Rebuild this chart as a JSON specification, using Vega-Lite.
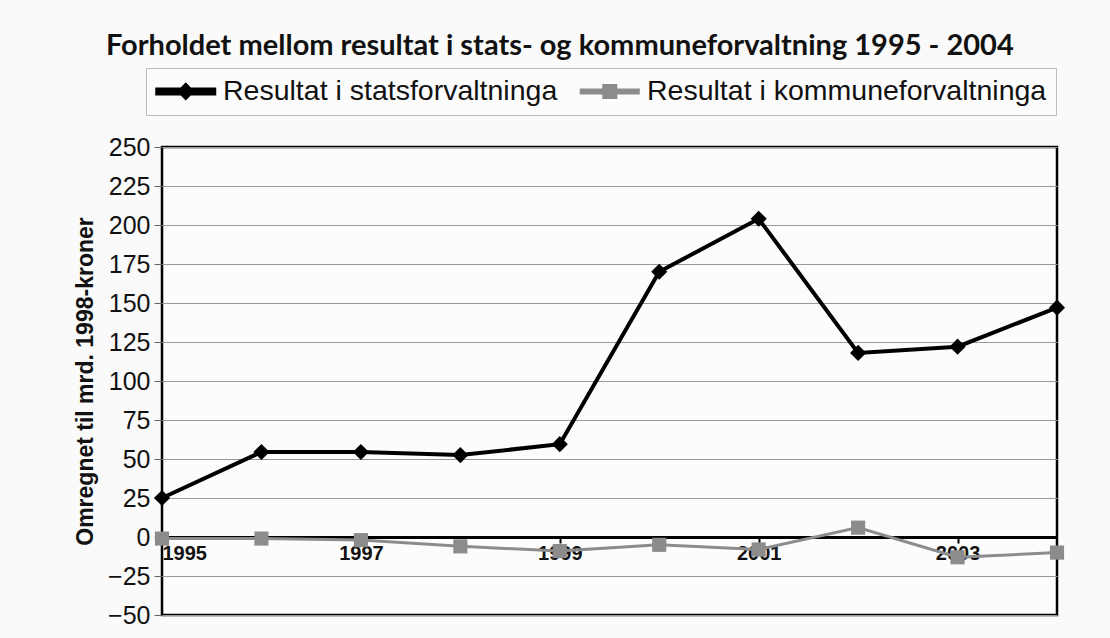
{
  "$schema": "https://vega.github.io/schema/vega-lite/v6.json",
  "width": 895,
  "height": 468,
  "autosize": {"type": "none"},
  "padding": {"left": 162, "top": 147, "right": 53, "bottom": 23},
  "background": "#fafafa",
  "title": {
    "text": "Forholdet mellom resultat i stats- og kommuneforvaltning 1995 - 2004",
    "font": "Lato, Liberation Sans, sans-serif",
    "fontSize": 29,
    "fontWeight": "bold",
    "color": "#111",
    "anchor": "start",
    "frame": "group",
    "dx": -56,
    "offset": 7
  },
  "config": {
    "view": {"stroke": "#000", "strokeWidth": 2.5, "fill": "#fcfcfc"},
    "axis": {"labelFont": "Liberation Sans", "titleFont": "Liberation Sans", "labelColor": "#111", "titleColor": "#111"}
  },
  "data": {
    "values": [
      {"year": 1995, "series": "Resultat i statsforvaltninga", "value": 25},
      {"year": 1996, "series": "Resultat i statsforvaltninga", "value": 54.5},
      {"year": 1997, "series": "Resultat i statsforvaltninga", "value": 54.5},
      {"year": 1998, "series": "Resultat i statsforvaltninga", "value": 52.5},
      {"year": 1999, "series": "Resultat i statsforvaltninga", "value": 59.5},
      {"year": 2000, "series": "Resultat i statsforvaltninga", "value": 170},
      {"year": 2001, "series": "Resultat i statsforvaltninga", "value": 204},
      {"year": 2002, "series": "Resultat i statsforvaltninga", "value": 118},
      {"year": 2003, "series": "Resultat i statsforvaltninga", "value": 122},
      {"year": 2004, "series": "Resultat i statsforvaltninga", "value": 147},
      {"year": 1995, "series": "Resultat i kommuneforvaltninga", "value": -1},
      {"year": 1996, "series": "Resultat i kommuneforvaltninga", "value": -1},
      {"year": 1997, "series": "Resultat i kommuneforvaltninga", "value": -2},
      {"year": 1998, "series": "Resultat i kommuneforvaltninga", "value": -6},
      {"year": 1999, "series": "Resultat i kommuneforvaltninga", "value": -9},
      {"year": 2000, "series": "Resultat i kommuneforvaltninga", "value": -5},
      {"year": 2001, "series": "Resultat i kommuneforvaltninga", "value": -8},
      {"year": 2002, "series": "Resultat i kommuneforvaltninga", "value": 6},
      {"year": 2003, "series": "Resultat i kommuneforvaltninga", "value": -13},
      {"year": 2004, "series": "Resultat i kommuneforvaltninga", "value": -10}
    ]
  },
  "encoding": {
    "x": {
      "field": "year",
      "type": "quantitative",
      "scale": {"domain": [1995, 2004], "nice": false, "zero": false},
      "axis": {
        "title": null,
        "values": [1995, 1997, 1999, 2001, 2003],
        "format": "d",
        "offset": -78,
        "domainColor": "#000",
        "domainWidth": 3,
        "tickColor": "#000",
        "tickWidth": 2,
        "tickSize": 6,
        "labelFontSize": 20,
        "labelFontWeight": "bold",
        "labelPadding": 0,
        "grid": false
      }
    },
    "y": {
      "field": "value",
      "type": "quantitative",
      "scale": {"domain": [-50, 250], "nice": false},
      "axis": {
        "title": "Omregnet til mrd. 1998-kroner",
        "titleFontSize": 23,
        "titleFontWeight": "bold",
        "titlePadding": 10,
        "values": [-50, -25, 0, 25, 50, 75, 100, 125, 150, 175, 200, 225, 250],
        "labelFontSize": 25,
        "labelPadding": 4,
        "tickSize": 8,
        "tickColor": "#666",
        "domain": false,
        "grid": true,
        "gridColor": "#999",
        "gridWidth": 1
      }
    },
    "color": {
      "field": "series",
      "type": "nominal",
      "scale": {
        "domain": ["Resultat i statsforvaltninga", "Resultat i kommuneforvaltninga"],
        "range": ["#000000", "#8c8c8c"]
      },
      "legend": {
        "title": null,
        "orient": "none",
        "legendX": -16,
        "legendY": -79,
        "direction": "horizontal",
        "labelFont": "Liberation Sans",
        "labelFontSize": 28.5,
        "labelColor": "#111",
        "labelOffset": 23,
        "symbolSize": 400,
        "symbolOffset": 16.5,
        "columnPadding": 17,
        "strokeColor": "#bbb",
        "padding": 9,
        "fillColor": "#fcfcfc",
        "labelLimit": 500,
        "encode": {
          "symbols": {
            "update": {
              "shape": {"signal": "datum.value == 'Resultat i statsforvaltninga' ? 'M-2.85,-0.2H2.85V0.2H-2.85Z M0,-0.62L0.62,0L0,0.62L-0.62,0Z' : 'M-2.85,-0.15H2.85V0.15H-2.85Z M-0.6,-0.6H0.6V0.6H-0.6Z'"},
              "fill": {"signal": "scale('color', datum.value)"},
              "stroke": {"value": "transparent"},
              "strokeWidth": {"value": 0},
              "opacity": {"value": 1}
            }
          }
        }
      }
    }
  },
  "layer": [
    {
      "mark": {"type": "line"},
      "encoding": {
        "strokeWidth": {
          "field": "series",
          "type": "nominal",
          "scale": {"domain": ["Resultat i statsforvaltninga", "Resultat i kommuneforvaltninga"], "range": [4, 3]},
          "legend": null
        }
      }
    },
    {
      "transform": [{"filter": "datum.series == 'Resultat i statsforvaltninga'"}],
      "mark": {"type": "point", "filled": true, "opacity": 1, "shape": "diamond", "size": 260}
    },
    {
      "transform": [{"filter": "datum.series == 'Resultat i kommuneforvaltninga'"}],
      "mark": {"type": "point", "filled": true, "opacity": 1, "shape": "square", "size": 200}
    }
  ]
}
